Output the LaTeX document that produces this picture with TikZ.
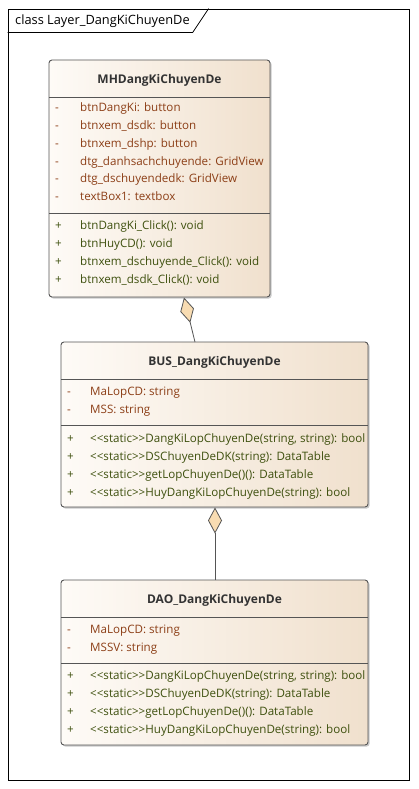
\documentclass[tikz,border=0pt]{standalone}
\usepackage{fontspec}
\newfontfamily\umlfont{Open Sans}
\usetikzlibrary{arrows.meta,shadows}
\definecolor{attrc}{RGB}{140,62,22}
\definecolor{opc}{RGB}{62,80,14}
\definecolor{boxl}{RGB}{254,251,247}
\definecolor{boxr}{RGB}{240,224,205}
\definecolor{dia}{RGB}{248,220,178}
\definecolor{edgec}{RGB}{85,85,85}
\tikzset{
  umlbox/.style={draw=edgec, line width=0.9pt, rounded corners=3pt, left color=boxl, right color=boxr,
    drop shadow={shadow xshift=1.6pt, shadow yshift=-1.6pt, opacity=0.35, fill=black!60},
    inner sep=0pt},
  sep/.style={draw=edgec, line width=0.8pt},
  hdr/.style={font=\umlfont\bfseries\fontsize{12}{14}\selectfont, text=black!80},
  rowtxt/.style={anchor=west, inner sep=0pt, text height=8.5pt, text depth=3pt, font=\umlfont\fontsize{11.6}{14}\selectfont},
  attr/.style={rowtxt, text=attrc},
  oper/.style={rowtxt, text=opc},
  agg/.style={draw=edgec, line width=0.8pt, -{Diamond[length=26pt, width=14pt, fill=dia]}},
  framebox/.style={draw=black, line width=0.8pt, inner sep=0pt},
  titletext/.style={anchor=west, inner sep=0pt, font=\umlfont\fontsize{12.8}{14}\selectfont, text=black}
}
\begin{document}
\begin{tikzpicture}[x=1pt,y=-1pt]
\useasboundingbox (0,0) rectangle (418,789);
\fill[white] (0,0) rectangle (418,789);
% frame
\node[framebox, minimum width=401pt, minimum height=771pt] (frame) at (208.5,394.5) {};
\draw[black, line width=0.8pt] (frame.north west) ++(0,24) -- ++(185,0) -- ++(16,-24);
\node[titletext] (title) at (15,21) {class Layer\_DangKiChuyenDe};

% MH box
\node[umlbox, minimum width=221pt, minimum height=237pt] (mh) at (159.5,178.5) {};
\draw[sep] (49,97) -- (270,97);
\draw[sep] (49,213) -- (270,213);
\node[hdr] (mhh) at (159.5,80) {MHDangKiChuyenDe};
\foreach \y/\t [count=\i] in {109/btnDangKi: button, 127/btnxem\_dsdk: button, 145/btnxem\_dshp: button,
  163/dtg\_danhsachchuyende: GridView, 180/dtg\_dschuyendedk: GridView, 198/textBox1: textbox}{
  \node[attr] (mha\i m) at (55,\y) {-};
  \node[attr] (mha\i) at (80,\y) {\t};
}
\foreach \y/\t [count=\i] in {227/btnDangKi\_Click(): void, 245/btnHuyCD(): void,
  263/btnxem\_dschuyende\_Click(): void, 281/btnxem\_dsdk\_Click(): void}{
  \node[oper] (mho\i m) at (55,\y) {+};
  \node[oper] (mho\i) at (80,\y) {\t};
}

% BUS box
\node[umlbox, minimum width=307pt, minimum height=165pt] (bus) at (214.5,424.5) {};
\draw[sep] (61,379) -- (368,379);
\draw[sep] (61,425) -- (368,425);
\node[hdr] (bush) at (214.5,362) {BUS\_DangKiChuyenDe};
\foreach \y/\t [count=\i] in {393/MaLopCD: string, 411/MSS: string}{
  \node[attr] (busa\i m) at (67,\y) {-};
  \node[attr] (busa\i) at (90,\y) {\t};
}
\foreach \y/\t [count=\i] in {440/{<{}<static>{}>DangKiLopChuyenDe(string, string): bool},
  458/{<{}<static>{}>DSChuyenDeDK(string): DataTable},
  476/{<{}<static>{}>getLopChuyenDe()(): DataTable},
  494/{<{}<static>{}>HuyDangKiLopChuyenDe(string): bool}}{
  \node[oper] (buso\i m) at (67,\y) {+};
  \node[oper] (buso\i) at (90,\y) {\t};
}

% DAO box
\node[umlbox, minimum width=307pt, minimum height=165pt] (dao) at (214.5,662.5) {};
\draw[sep] (61,617) -- (368,617);
\draw[sep] (61,663) -- (368,663);
\node[hdr] (daoh) at (214.5,600) {DAO\_DangKiChuyenDe};
\foreach \y/\t [count=\i] in {631/MaLopCD: string, 649/MSSV: string}{
  \node[attr] (daoa\i m) at (67,\y) {-};
  \node[attr] (daoa\i) at (90,\y) {\t};
}
\foreach \y/\t [count=\i] in {677/{<{}<static>{}>DangKiLopChuyenDe(string, string): bool},
  695/{<{}<static>{}>DSChuyenDeDK(string): DataTable},
  713/{<{}<static>{}>getLopChuyenDe()(): DataTable},
  731/{<{}<static>{}>HuyDangKiLopChuyenDe(string): bool}}{
  \node[oper] (daoo\i m) at (67,\y) {+};
  \node[oper] (daoo\i) at (90,\y) {\t};
}

% connectors
\coordinate (c1a) at (195,342);
\coordinate (c1b) at (184,297.5);
\draw[agg] (c1a) -- (c1b);
\coordinate (c2a) at (215,580);
\coordinate (c2b) at (215,507.5);
\draw[agg] (c2a) -- (c2b);
\end{tikzpicture}
\end{document}
